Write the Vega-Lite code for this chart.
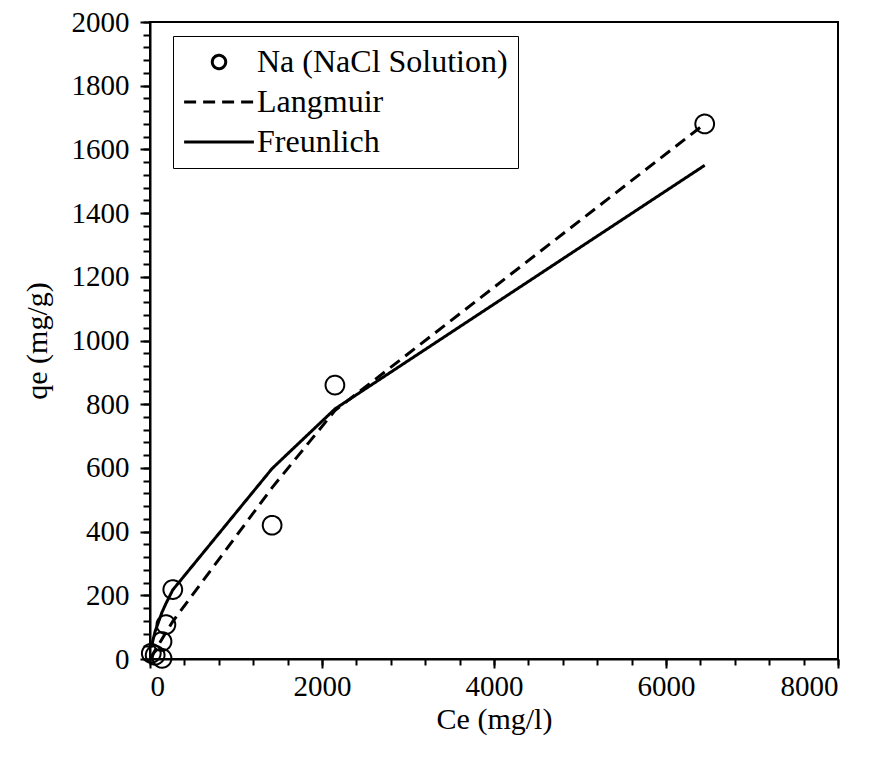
{
  "$schema": "https://vega.github.io/schema/vega-lite/v6.json",
  "width": 688,
  "height": 637,
  "autosize": {"type": "none"},
  "padding": {"left": 150, "top": 22, "right": 35, "bottom": 102},
  "background": "white",
  "config": {
    "font": "Liberation Serif",
    "view": {"stroke": "black", "strokeWidth": 2},
    "axis": {
      "labelFont": "Liberation Serif",
      "titleFont": "Liberation Serif",
      "labelColor": "black",
      "titleColor": "black",
      "domainColor": "black",
      "tickColor": "black",
      "grid": false,
      "titleFontWeight": "normal",
      "labelFontSize": 29,
      "titleFontSize": 30,
      "domainWidth": 2,
      "tickWidth": 2,
      "format": "d"
    },
    "legend": {
      "strokeColor": "black",
      "fillColor": "white",
      "padding": 10,
      "rowPadding": 8,
      "labelFont": "Liberation Serif",
      "labelFontSize": 32,
      "labelColor": "black",
      "labelLimit": 400,
      "symbolSize": 180,
      "symbolStrokeColor": "black",
      "symbolFillColor": "transparent",
      "symbolStrokeWidth": 3,
      "symbolOffset": 20,
      "labelOffset": 22
    }
  },
  "datasets": {
    "obs": [
      {"series": "Na (NaCl Solution)", "Ce": 15, "qe": 18},
      {"series": "Na (NaCl Solution)", "Ce": 60, "qe": 12},
      {"series": "Na (NaCl Solution)", "Ce": 140, "qe": 2},
      {"series": "Na (NaCl Solution)", "Ce": 140, "qe": 55},
      {"series": "Na (NaCl Solution)", "Ce": 185, "qe": 108},
      {"series": "Na (NaCl Solution)", "Ce": 265, "qe": 218},
      {"series": "Na (NaCl Solution)", "Ce": 1420, "qe": 420},
      {"series": "Na (NaCl Solution)", "Ce": 2150, "qe": 860},
      {"series": "Na (NaCl Solution)", "Ce": 6450, "qe": 1680}
    ],
    "fit": [
      {"series": "Langmuir", "Ce": 0, "qe": 0},
      {"series": "Langmuir", "Ce": 15, "qe": 7},
      {"series": "Langmuir", "Ce": 60, "qe": 27},
      {"series": "Langmuir", "Ce": 140, "qe": 63},
      {"series": "Langmuir", "Ce": 185, "qe": 83},
      {"series": "Langmuir", "Ce": 265, "qe": 118},
      {"series": "Langmuir", "Ce": 1420, "qe": 538},
      {"series": "Langmuir", "Ce": 2150, "qe": 780},
      {"series": "Langmuir", "Ce": 6450, "qe": 1680},
      {"series": "Freunlich", "Ce": 15, "qe": 37},
      {"series": "Freunlich", "Ce": 60, "qe": 87},
      {"series": "Freunlich", "Ce": 140, "qe": 147},
      {"series": "Freunlich", "Ce": 185, "qe": 174},
      {"series": "Freunlich", "Ce": 265, "qe": 217},
      {"series": "Freunlich", "Ce": 1420, "qe": 598},
      {"series": "Freunlich", "Ce": 2150, "qe": 785},
      {"series": "Freunlich", "Ce": 6450, "qe": 1550}
    ]
  },
  "layer": [
    {
      "data": {"name": "fit"},
      "mark": {"type": "line", "strokeWidth": 3, "color": "black", "interpolate": "linear"},
      "encoding": {
        "x": {
          "field": "Ce", "type": "quantitative",
          "scale": {"domain": [0, 8000], "nice": false, "zero": false},
          "axis": {
            "orient": "bottom", "title": null, "labels": false, "domain": false,
            "tickSize": 6,
            "values": [0,400,800,1200,1600,2000,2400,2800,3200,3600,4000,4400,4800,5200,5600,6000,6400,6800,7200,7600,8000]
          }
        },
        "y": {
          "field": "qe", "type": "quantitative",
          "scale": {"domain": [0, 2000], "nice": false, "zero": false},
          "axis": {
            "orient": "left", "title": null, "labels": false, "domain": false,
            "tickSize": 7,
            "values": [0,40,80,120,160,200,240,280,320,360,400,440,480,520,560,600,640,680,720,760,800,840,880,920,960,1000,1040,1080,1120,1160,1200,1240,1280,1320,1360,1400,1440,1480,1520,1560,1600,1640,1680,1720,1760,1800,1840,1880,1920,1960,2000]
          }
        },
        "strokeDash": {
          "field": "series", "type": "nominal",
          "scale": {"domain": ["Na (NaCl Solution)", "Langmuir", "Freunlich"], "range": [[1, 0], [12, 7], [1, 0]]}
        }
      }
    },
    {
      "data": {"name": "obs"},
      "mark": {"type": "point", "filled": false, "color": "black", "strokeWidth": 2, "size": 350, "opacity": 1},
      "encoding": {
        "x": {
          "field": "Ce", "type": "quantitative",
          "scale": {"domain": [0, 8000], "nice": false, "zero": false},
          "axis": {
            "orient": "bottom", "title": "Ce (mg/l)", "values": [0, 2000, 4000, 6000, 8000],
            "tickSize": 9, "labelPadding": 4, "titlePadding": 3
          }
        },
        "y": {
          "field": "qe", "type": "quantitative",
          "scale": {"domain": [0, 2000], "nice": false, "zero": false},
          "axis": {
            "orient": "left", "title": "qe (mg/g)",
            "values": [0, 200, 400, 600, 800, 1000, 1200, 1400, 1600, 1800, 2000],
            "tickSize": 10, "labelPadding": 11, "titlePadding": 19
          }
        },
        "shape": {
          "field": "series", "type": "nominal",
          "scale": {"domain": ["Na (NaCl Solution)", "Langmuir", "Freunlich"], "range": ["circle", "M-5.2,0H5.2", "M-5.2,0H5.2"]},
          "legend": {
            "title": null, "orient": "none", "legendX": 23, "legendY": 14,
            "encode": {"symbols": {"update": {"strokeWidth": {"signal": "datum.value === 'Na (NaCl Solution)' ? 2 : 3"}}}}
          }
        },
        "strokeDash": {
          "field": "series", "type": "nominal",
          "scale": {"domain": ["Na (NaCl Solution)", "Langmuir", "Freunlich"], "range": [[1, 0], [12, 7], [1, 0]]}
        }
      }
    }
  ],
  "resolve": {"axis": {"x": "independent", "y": "independent"}}
}
